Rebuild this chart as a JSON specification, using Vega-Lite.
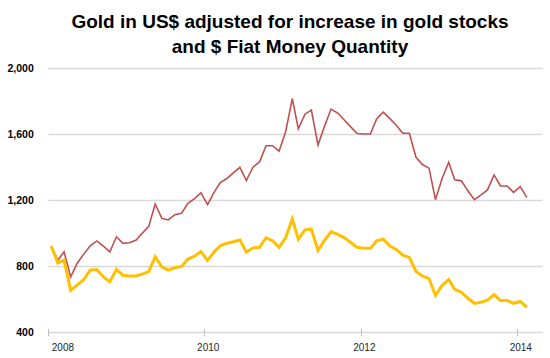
{
  "$schema": "https://vega.github.io/schema/vega-lite/v6.json",
  "width": 494,
  "height": 264,
  "autosize": {"type": "none"},
  "padding": {"left": 48, "top": 68, "right": 8, "bottom": 26},
  "background": "white",
  "title": {
    "text": ["Gold in US$ adjusted for increase in gold stocks", "and $ Fiat Money Quantity"],
    "font": "Liberation Sans",
    "fontSize": 19,
    "fontWeight": "bold",
    "color": "#000000",
    "lineHeight": 25,
    "anchor": "middle",
    "offset": 6,
    "dx": -5
  },
  "data": {
    "values": [
      {"date": "2008-01-16", "stocks": 920, "fiat": 920},
      {"date": "2008-02-16", "stocks": 835, "fiat": 819},
      {"date": "2008-03-16", "stocks": 886, "fiat": 836},
      {"date": "2008-04-16", "stocks": 734, "fiat": 653},
      {"date": "2008-05-16", "stocks": 815, "fiat": 684},
      {"date": "2008-06-16", "stocks": 872, "fiat": 718},
      {"date": "2008-07-16", "stocks": 922, "fiat": 775},
      {"date": "2008-08-16", "stocks": 952, "fiat": 779},
      {"date": "2008-09-16", "stocks": 920, "fiat": 734},
      {"date": "2008-10-16", "stocks": 886, "fiat": 704},
      {"date": "2008-11-16", "stocks": 977, "fiat": 779},
      {"date": "2008-12-16", "stocks": 937, "fiat": 744},
      {"date": "2009-01-16", "stocks": 941, "fiat": 740},
      {"date": "2009-02-16", "stocks": 957, "fiat": 740},
      {"date": "2009-03-16", "stocks": 998, "fiat": 751},
      {"date": "2009-04-16", "stocks": 1040, "fiat": 766},
      {"date": "2009-05-16", "stocks": 1176, "fiat": 856},
      {"date": "2009-06-16", "stocks": 1089, "fiat": 795},
      {"date": "2009-07-16", "stocks": 1079, "fiat": 775},
      {"date": "2009-08-16", "stocks": 1111, "fiat": 789},
      {"date": "2009-09-16", "stocks": 1119, "fiat": 797},
      {"date": "2009-10-16", "stocks": 1180, "fiat": 842},
      {"date": "2009-11-16", "stocks": 1208, "fiat": 860},
      {"date": "2009-12-16", "stocks": 1244, "fiat": 888},
      {"date": "2010-01-16", "stocks": 1172, "fiat": 833},
      {"date": "2010-02-16", "stocks": 1248, "fiat": 886},
      {"date": "2010-03-16", "stocks": 1305, "fiat": 922},
      {"date": "2010-04-16", "stocks": 1330, "fiat": 938},
      {"date": "2010-05-16", "stocks": 1364, "fiat": 947},
      {"date": "2010-06-16", "stocks": 1398, "fiat": 957},
      {"date": "2010-07-16", "stocks": 1318, "fiat": 884},
      {"date": "2010-08-16", "stocks": 1399, "fiat": 910},
      {"date": "2010-09-16", "stocks": 1431, "fiat": 913},
      {"date": "2010-10-16", "stocks": 1529, "fiat": 971},
      {"date": "2010-11-16", "stocks": 1529, "fiat": 953},
      {"date": "2010-12-16", "stocks": 1496, "fiat": 913},
      {"date": "2011-01-16", "stocks": 1615, "fiat": 972},
      {"date": "2011-02-16", "stocks": 1814, "fiat": 1085},
      {"date": "2011-03-16", "stocks": 1631, "fiat": 963},
      {"date": "2011-04-16", "stocks": 1720, "fiat": 1019},
      {"date": "2011-05-16", "stocks": 1745, "fiat": 1023},
      {"date": "2011-06-16", "stocks": 1533, "fiat": 894},
      {"date": "2011-07-16", "stocks": 1645, "fiat": 955},
      {"date": "2011-08-16", "stocks": 1751, "fiat": 1007},
      {"date": "2011-09-16", "stocks": 1727, "fiat": 992},
      {"date": "2011-10-16", "stocks": 1686, "fiat": 972},
      {"date": "2011-11-16", "stocks": 1643, "fiat": 942},
      {"date": "2011-12-16", "stocks": 1603, "fiat": 913},
      {"date": "2012-01-16", "stocks": 1600, "fiat": 907},
      {"date": "2012-02-16", "stocks": 1600, "fiat": 907},
      {"date": "2012-03-16", "stocks": 1691, "fiat": 952},
      {"date": "2012-04-16", "stocks": 1732, "fiat": 963},
      {"date": "2012-05-16", "stocks": 1695, "fiat": 922},
      {"date": "2012-06-16", "stocks": 1653, "fiat": 900},
      {"date": "2012-07-16", "stocks": 1605, "fiat": 866},
      {"date": "2012-08-16", "stocks": 1605, "fiat": 852},
      {"date": "2012-09-16", "stocks": 1459, "fiat": 767},
      {"date": "2012-10-16", "stocks": 1415, "fiat": 740},
      {"date": "2012-11-16", "stocks": 1393, "fiat": 724},
      {"date": "2012-12-16", "stocks": 1202, "fiat": 621},
      {"date": "2013-01-16", "stocks": 1330, "fiat": 682},
      {"date": "2013-02-16", "stocks": 1429, "fiat": 718},
      {"date": "2013-03-16", "stocks": 1322, "fiat": 658},
      {"date": "2013-04-16", "stocks": 1316, "fiat": 641},
      {"date": "2013-05-16", "stocks": 1257, "fiat": 606},
      {"date": "2013-06-16", "stocks": 1202, "fiat": 573},
      {"date": "2013-07-16", "stocks": 1230, "fiat": 580},
      {"date": "2013-08-16", "stocks": 1261, "fiat": 593},
      {"date": "2013-09-16", "stocks": 1352, "fiat": 627},
      {"date": "2013-10-16", "stocks": 1285, "fiat": 591},
      {"date": "2013-11-16", "stocks": 1285, "fiat": 591},
      {"date": "2013-12-16", "stocks": 1246, "fiat": 574},
      {"date": "2014-01-16", "stocks": 1281, "fiat": 585},
      {"date": "2014-02-16", "stocks": 1216, "fiat": 550}
    ]
  },
  "encoding": {
    "x": {
      "field": "date",
      "type": "temporal",
      "scale": {
        "type": "utc",
        "domain": [
          {"year": 2008, "month": 1, "date": 1, "utc": true},
          {"year": 2014, "month": 4, "date": 28, "utc": true}
        ]
      },
      "axis": {
        "title": null,
        "values": [
          {"year": 2008, "month": 1, "date": 1, "utc": true},
          {"year": 2010, "month": 1, "date": 1, "utc": true},
          {"year": 2012, "month": 1, "date": 1, "utc": true},
          {"year": 2014, "month": 1, "date": 1, "utc": true}
        ],
        "format": "%Y",
        "formatType": "utc",
        "domain": false,
        "grid": false,
        "offset": -3.5,
        "tickSize": 7,
        "tickColor": "#bfbfbf",
        "tickWidth": 1,
        "labelOffset": 3.3,
        "labelPadding": 7,
        "labelFont": "Liberation Sans",
        "labelFontSize": 10,
        "labelColor": "#262626"
      }
    }
  },
  "layer": [
    {
      "mark": {"type": "line", "color": "#C0504D", "strokeWidth": 1.6},
      "encoding": {
        "y": {
          "field": "stocks",
          "type": "quantitative",
          "scale": {"domain": [400, 2000], "nice": false, "zero": false},
          "axis": {
            "title": null,
            "values": [400, 800, 1200, 1600, 2000],
            "format": ",.0f",
            "grid": true,
            "gridColor": "#d9d9d9",
            "gridWidth": 1.5,
            "domain": false,
            "ticks": false,
            "tickSize": 0,
            "labelPadding": 14.7,
            "labelFont": "Liberation Sans",
            "labelFontWeight": "bold",
            "labelFontSize": 10.5,
            "labelColor": "#000000"
          }
        }
      }
    },
    {
      "mark": {"type": "line", "color": "#FFC000", "strokeWidth": 3},
      "encoding": {
        "y": {"field": "fiat", "type": "quantitative", "axis": {"title": null}}
      }
    }
  ],
  "config": {"view": {"stroke": null}}
}
